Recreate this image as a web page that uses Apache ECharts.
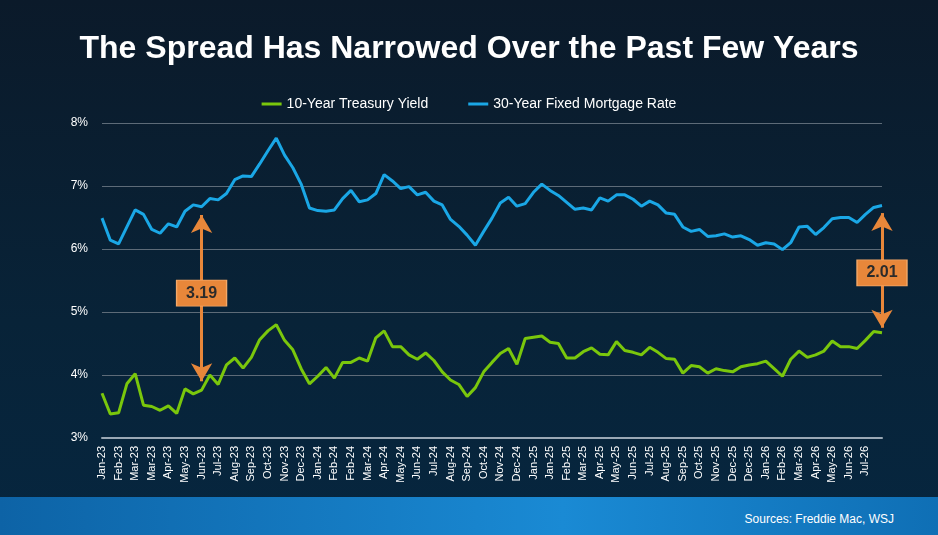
<!DOCTYPE html>
<html><head><meta charset="utf-8">
<script src="https://cdn.jsdelivr.net/npm/echarts@6/dist/echarts.min.js"></script>
<style>
html,body{margin:0;padding:0;width:938px;height:535px;overflow:hidden;}
body{background:linear-gradient(180deg,#0b1a2a 0%,#082338 60%,#06263f 100%);position:relative;font-family:Arial,"Liberation Sans",sans-serif;}
#c{position:absolute;left:0;top:0;width:938px;height:535px;}
#band{position:absolute;left:0;top:497px;width:938px;height:38px;background:linear-gradient(90deg,#0d63a6 0%,#1a8ad4 60%,#0f6fb5 100%);}
#src{position:absolute;right:44px;top:512px;color:#fff;font-size:12px;}
</style></head><body>
<div id="band"></div><div id="src">Sources: Freddie Mac, WSJ</div>
<div id="c"></div>
<script>
const xLabels = ["Jan-23","Feb-23","Mar-23","Mar-23","Apr-23","May-23","Jun-23","Jul-23","Aug-23","Sep-23","Oct-23","Nov-23","Dec-23","Jan-24","Feb-24","Feb-24","Mar-24","Apr-24","May-24","Jun-24","Jul-24","Aug-24","Sep-24","Oct-24","Nov-24","Dec-24","Jan-25","Jan-25","Feb-25","Mar-25","Apr-25","May-25","Jun-25","Jul-25","Aug-25","Sep-25","Oct-25","Nov-25","Dec-25","Dec-25","Jan-26","Feb-26","Mar-26","Apr-26","May-26","Jun-26","Jul-26"];
const mortgage = [6.49,6.14,6.08,6.35,6.62,6.55,6.31,6.25,6.40,6.35,6.60,6.70,6.67,6.80,6.78,6.88,7.10,7.16,7.15,7.35,7.56,7.76,7.49,7.29,7.03,6.65,6.61,6.60,6.62,6.80,6.93,6.75,6.78,6.88,7.18,7.08,6.96,6.99,6.86,6.90,6.76,6.70,6.47,6.36,6.22,6.06,6.28,6.49,6.73,6.82,6.68,6.72,6.90,7.03,6.93,6.85,6.74,6.63,6.65,6.62,6.81,6.76,6.86,6.86,6.79,6.68,6.76,6.70,6.57,6.55,6.35,6.28,6.31,6.20,6.21,6.24,6.19,6.21,6.15,6.06,6.10,6.08,5.99,6.10,6.35,6.36,6.23,6.34,6.48,6.50,6.50,6.42,6.55,6.66,6.69];
const treasury = [3.71,3.38,3.40,3.86,4.02,3.52,3.50,3.44,3.51,3.39,3.78,3.70,3.76,4.00,3.85,4.16,4.27,4.11,4.28,4.56,4.70,4.80,4.55,4.40,4.10,3.86,3.98,4.12,3.95,4.20,4.20,4.27,4.22,4.59,4.70,4.45,4.45,4.32,4.25,4.35,4.23,4.05,3.92,3.85,3.66,3.80,4.05,4.20,4.34,4.42,4.17,4.58,4.60,4.62,4.52,4.50,4.27,4.27,4.37,4.43,4.33,4.32,4.53,4.39,4.36,4.32,4.44,4.36,4.26,4.25,4.03,4.15,4.13,4.03,4.10,4.07,4.05,4.13,4.16,4.18,4.22,4.10,3.98,4.25,4.38,4.28,4.32,4.38,4.54,4.45,4.45,4.42,4.55,4.69,4.67];
const spreads = [{idx:12, top:6.54, bot:3.90, box:5.30, text:"3.19"},{idx:94, top:6.57, bot:4.75, box:5.62, text:"2.01"}];

const cats = mortgage.map((v,i)=> (i%2===0 && xLabels[i/2]) ? xLabels[i/2] : "");
const orange = "#e8873a";
const chart = echarts.init(document.getElementById('c'));
chart.setOption({
  backgroundColor:'transparent',
  title:{text:'The Spread Has Narrowed Over the Past Few Years',left:'center',top:28,textStyle:{color:'#fff',fontSize:32,fontWeight:'bold',fontFamily:'Arial, Liberation Sans'}},
  legend:{top:92,left:'center',itemGap:40,icon:'path://M0,0H20V3H0Z',itemWidth:20,itemHeight:3,textStyle:{color:'#fff',fontSize:14,fontFamily:'Arial, Liberation Sans'},data:['10-Year Treasury Yield','30-Year Fixed Mortgage Rate']},
  grid:{left:102,right:56,top:123,bottom:97},
  xAxis:{type:'category',data:cats,boundaryGap:false,
    axisLine:{lineStyle:{color:'#9aa8b5',width:2}},axisTick:{show:false},
    axisLabel:{interval:1,rotate:90,color:'#fff',fontSize:11,fontFamily:'Arial, Liberation Sans',margin:8}},
  yAxis:{type:'value',min:3,max:8,interval:1,
    axisLabel:{color:'#fff',fontSize:12,formatter:'{value}%',margin:14,fontFamily:'Arial, Liberation Sans'},
    axisLine:{show:false},axisTick:{show:false},
    splitLine:{lineStyle:{color:'#5d6b78',width:1}}},
  series:[
    {name:'10-Year Treasury Yield',type:'line',data:treasury,showSymbol:false,lineStyle:{color:'#7ac70c',width:3},itemStyle:{color:'#7ac70c'},z:3},
    {name:'30-Year Fixed Mortgage Rate',type:'line',data:mortgage,showSymbol:false,lineStyle:{color:'#1aa7e6',width:3},itemStyle:{color:'#1aa7e6'},z:3,
     markLine:{silent:true,symbol:['arrow','arrow'],symbolSize:[16,18],label:{show:false},
       lineStyle:{color:orange,width:3,type:'solid'},
       data:spreads.map(s=>[{coord:[s.idx,s.top]},{coord:[s.idx,s.bot]}])},
     markPoint:{silent:true,symbol:'rect',symbolSize:[50,26],itemStyle:{color:orange,borderColor:'#f3a868',borderWidth:1},
       label:{color:'#2b2b2b',fontSize:16,fontWeight:'bold',fontFamily:'Arial, Liberation Sans'},
       data:spreads.map(s=>({coord:[s.idx,s.box],value:s.text}))}}
  ]
});
</script></body></html>
